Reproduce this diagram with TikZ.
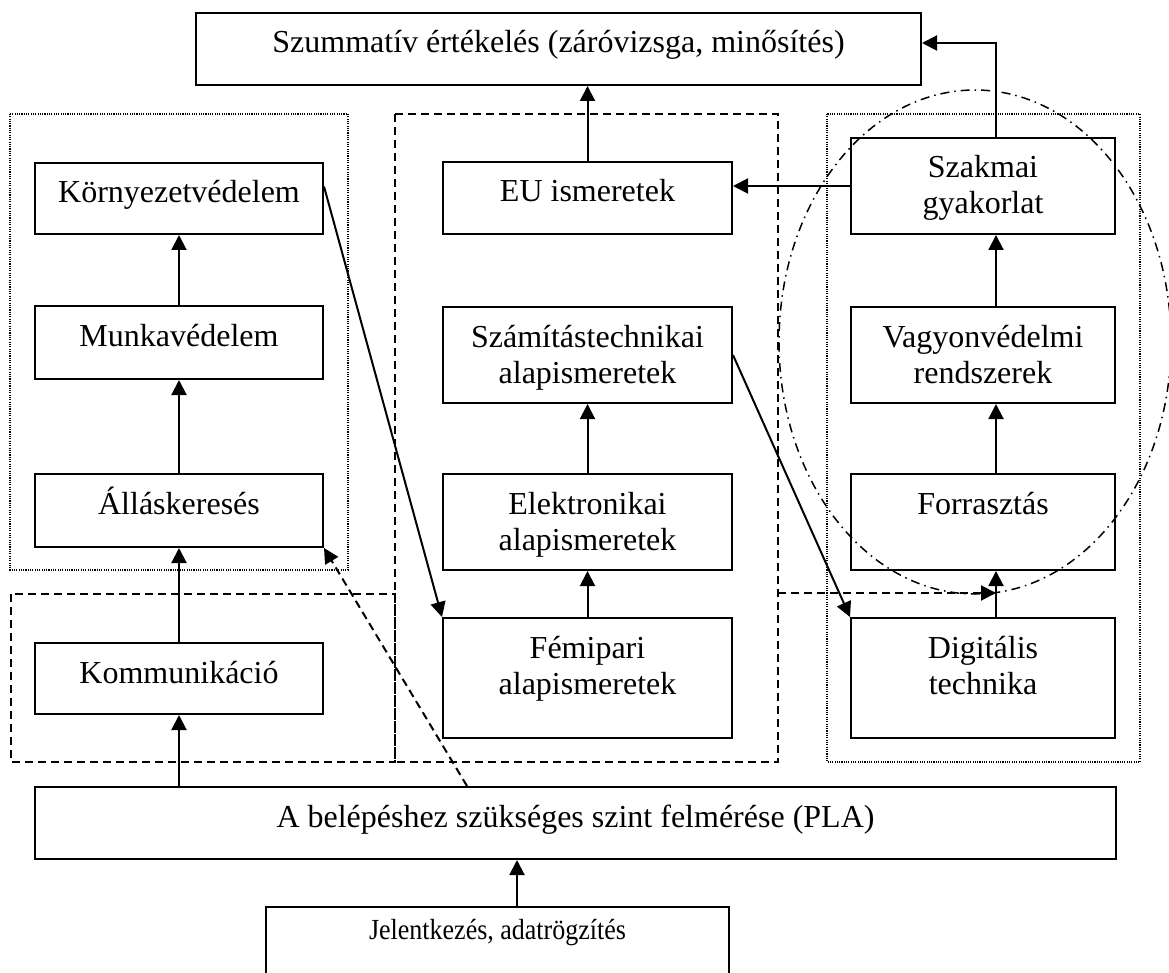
\documentclass[tikz,border=0pt]{standalone}
\usepackage{fontspec}
\usepackage{graphicx}
\setmainfont{Liberation Serif}
\usetikzlibrary{arrows.meta}

\tikzset{
  box/.style={draw, line width=2pt, anchor=north, inner xsep=0pt, inner ysep=0pt,
    align=flush center, font=\fontsize{32}{36}\selectfont, text height=40pt},
  colL/.style={minimum width=288pt, text width=288pt},
  colM/.style={minimum width=289pt, text width=289pt},
  colR/.style={minimum width=264pt, text width=264pt},
  arr/.style={line width=2pt, -{Triangle[length=15pt,width=15pt]}},
  grpdash/.style={line width=2pt, dash pattern=on 8pt off 5pt},
  grpdot/.style={line width=1.1pt, dash pattern=on 1.1pt off 1.2pt},
  dasharr/.style={arr, dash pattern=on 8pt off 5pt},
  ring/.style={line width=1.5pt, dash pattern=on 9pt off 5pt on 1.5pt off 5pt}
}

\begin{document}
\begin{tikzpicture}[x=1pt, y=-1pt]
\useasboundingbox (0,0) rectangle (1169,973);
\clip (0,0) rectangle (1169,973);
\fill[white] (0,0) rectangle (1169,973);

% group frames
\draw[grpdot] (10,114) rectangle (348,570);
\draw[grpdot] (827,114) rectangle (1140,762);
\draw[grpdash] (11,594) rectangle (395,762);
\draw[grpdash] (395,114) rectangle (778,762);
\draw[ring] (975,342) ellipse [x radius=196, y radius=252];

% top
\node[box, minimum width=725pt, text width=725pt, text depth=32pt] (szum) at (558.5,12)
  {Szummatív értékelés (záróvizsga, minősítés)};

% left column
\node[box, colL, text depth=31pt] (korny) at (179,162) {Környezetvédelem};
\node[box, colL, text depth=33pt] (munka) at (179,305) {Munkavédelem};
\node[box, colL, text depth=33pt] (allas) at (179,473) {Álláskeresés};
\node[box, colL, text depth=31pt] (komm)  at (179,642) {Kommunikáció};

% middle column
\node[box, colM, text depth=32pt] (eu)   at (587.5,161) {EU ismeretek};
\node[box, colM, text depth=56pt] (szam) at (587.5,306) {Számítástechnikai\\alapismeretek};
\node[box, colM, text depth=56pt] (elek) at (587.5,473) {Elektronikai\\alapismeretek};
\node[box, colM, text depth=80pt] (femi) at (587.5,617) {Fémipari\\alapismeretek};

% right column
\node[box, colR, text depth=56pt] (szak) at (983,137) {Szakmai\\gyakorlat};
\node[box, colR, text depth=56pt] (vagy) at (983,306) {Vagyonvédelmi\\rendszerek};
\node[box, colR, text depth=56pt] (forr) at (983,473) {Forrasztás};
\node[box, colR, text depth=80pt] (digi) at (983,617) {Digitális\\technika};

% bottom
\node[box, minimum width=1081pt, text width=1081pt, text depth=32pt] (pla) at (575.5,786)
  {A belépéshez szükséges szint felmérése (PLA)};
\node[box, minimum width=463pt, text width=463pt, font=\fontsize{26}{30}\selectfont,
  text height=32pt, text depth=80pt] (jel) at (497.5,906)
  {\scalebox{1}[1.12]{Jelentkezés, adatrögzítés}};

% entry flow
\draw[arr] ([xshift=19.5pt]jel.north) -- ([xshift=19.5pt]jel.north |- pla.south);
\draw[arr] (komm.south |- pla.north) -- (komm.south);

% left column flow
\draw[arr] (komm.north) -- (allas.south);
\draw[arr] (allas.north) -- (munka.south);
\draw[arr] (munka.north) -- (korny.south);

% middle column flow
\draw[arr] (femi.north) -- (elek.south);
\draw[arr] (elek.north) -- (szam.south);
\draw[arr] (eu.north) -- (eu.north |- szum.south);

% right column flow
\draw[arr] ([xshift=13pt]digi.north) -- ([xshift=13pt]forr.south);
\draw[arr] ([xshift=13pt]forr.north) -- ([xshift=13pt]vagy.south);
\draw[arr] ([xshift=13pt]vagy.north) -- ([xshift=13pt]szak.south);
\draw[arr] ([xshift=13pt]szak.north) |- ([yshift=6pt]szum.east);
\draw[arr] (szak.west) -- (szak.west -| eu.east);

% cross links
\draw[arr] ([yshift=12pt]korny.east) -- (femi.north west);
\draw[arr] (szam.east) -- (digi.north west);
\draw[dasharr] ([xshift=-108.5pt]pla.north) -- (allas.south east);
\coordinate (midedge) at (778,593);
\coordinate (dighook) at ([xshift=13pt]digi.north);
\draw[dasharr] (midedge) -- (midedge -| dighook);
\end{tikzpicture}
\end{document}
